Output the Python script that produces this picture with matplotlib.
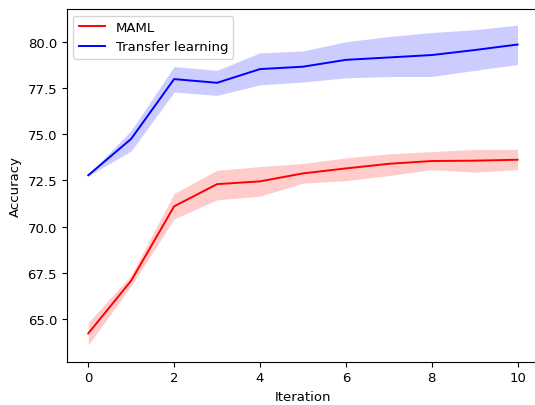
import numpy as np
import matplotlib
matplotlib.use("Agg")
import matplotlib.pyplot as plt

# Dados
iteracoes = [0, 1, 2, 3, 4, 5, 6, 7, 8, 9, 10]

maml_media = [64.23, 67.08, 71.10, 72.30, 72.45, 72.88, 73.15, 73.40, 73.55, 73.57, 73.62]
maml_sup = [64.82, 67.38, 71.80, 73.05, 73.25, 73.42, 73.72, 73.94, 74.06, 74.18, 74.18]
maml_inf = [63.60, 66.80, 70.42, 71.45, 71.65, 72.35, 72.49, 72.76, 73.09, 72.95, 73.09]

tl_media = [72.78, 74.75, 77.98, 77.78, 78.52, 78.65, 79.02, 79.15, 79.28, 79.55, 79.85]
tl_sup = [72.82, 75.20, 78.66, 78.45, 79.40, 79.50, 80.00, 80.28, 80.50, 80.65, 80.90]
tl_inf = [72.74, 74.10, 77.28, 77.10, 77.67, 77.82, 78.05, 78.12, 78.12, 78.45, 78.77]

plt.rcParams['font.size'] = 9.5

fig = plt.figure(figsize=(5.35, 4.06), dpi=100)
ax = fig.add_axes([66.8 / 535, 1 - 362.7 / 406, (539 - 66.8) / 535, (362.7 - 10) / 406])

ax.plot(iteracoes, maml_media, color='red', linewidth=1.4, label='MAML')
ax.fill_between(iteracoes, maml_inf, maml_sup, color='red', alpha=0.2, linewidth=0)
ax.plot(iteracoes, tl_media, color='blue', linewidth=1.4, label='Transfer learning')
ax.fill_between(iteracoes, tl_inf, tl_sup, color='blue', alpha=0.2, linewidth=0)

ax.set_xlabel('Iteration')
ax.set_ylabel('Accuracy')
ax.set_xticks([0, 2, 4, 6, 8, 10])
ax.set_yticks([65.0, 67.5, 70.0, 72.5, 75.0, 77.5, 80.0])
ax.set_xlim(-0.5, 10.5)
ax.set_ylim(62.7, 81.77)
ax.spines['right'].set_visible(False)
ax.legend(loc='upper left')

fig.savefig('out.png', dpi=100)
